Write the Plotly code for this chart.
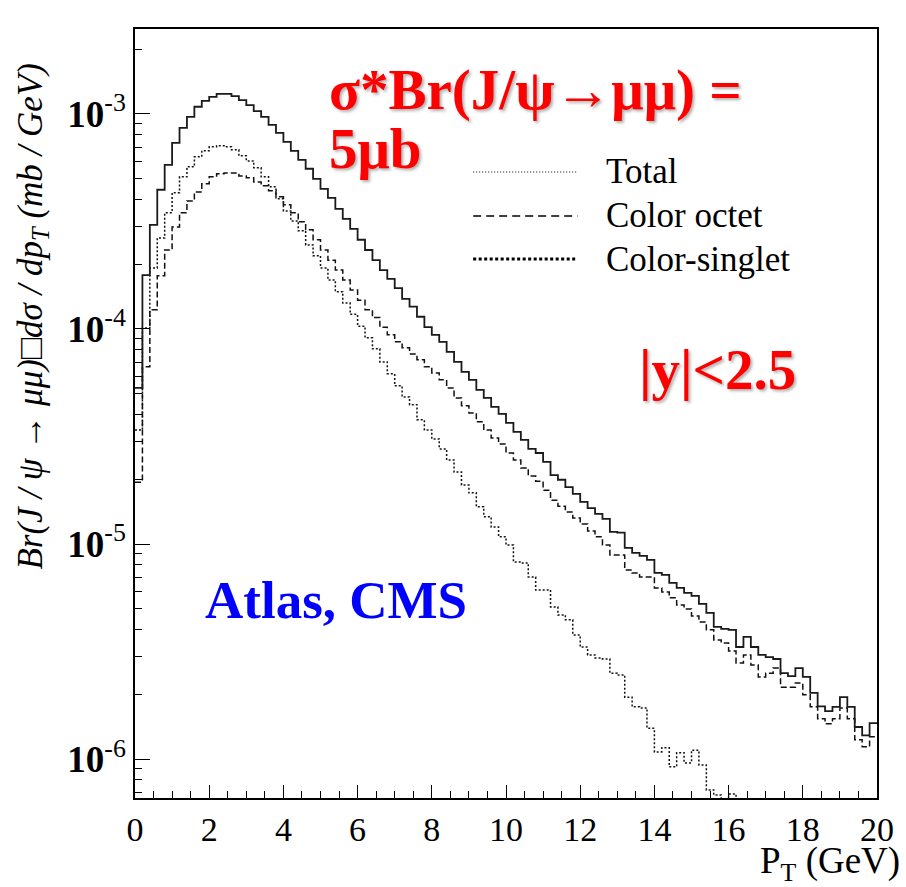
import plotly.graph_objects as go

# ---------------- data ----------------
bin_width = 0.2          # GeV
n_bins = 100
pt_edges = [round(i * bin_width, 1) for i in range(n_bins + 1)]

total = [
    5.32e-5, 1.78e-4, 3.05e-4, 4.44e-4, 5.80e-4, 7.34e-4, 8.62e-4, 9.70e-4, 1.08e-3, 1.15e-3,
    1.20e-3, 1.24e-3, 1.24e-3, 1.21e-3, 1.16e-3, 1.10e-3, 1.03e-3, 9.70e-4, 8.90e-4, 8.17e-4,
    7.42e-4, 6.74e-4, 6.12e-4, 5.56e-4, 4.99e-4, 4.48e-4, 4.07e-4, 3.62e-4, 3.25e-4, 2.92e-4,
    2.60e-4, 2.33e-4, 2.09e-4, 1.88e-4, 1.71e-4, 1.55e-4, 1.38e-4, 1.27e-4, 1.14e-4, 1.02e-4,
    9.39e-5, 8.72e-5, 7.83e-5, 7.03e-5, 6.32e-5, 5.80e-5, 5.21e-5, 4.78e-5, 4.34e-5, 4.03e-5,
    3.66e-5, 3.32e-5, 3.05e-5, 2.77e-5, 2.65e-5, 2.41e-5, 2.09e-5, 1.99e-5, 1.84e-5, 1.71e-5,
    1.57e-5, 1.47e-5, 1.38e-5, 1.31e-5, 1.14e-5, 1.13e-5, 9.60e-6, 9.10e-6, 8.81e-6, 8.44e-6,
    7.34e-6, 7.19e-6, 6.60e-6, 6.25e-6, 5.93e-6, 5.74e-6, 5.27e-6, 4.78e-6, 4.12e-6, 4.03e-6,
    3.99e-6, 3.32e-6, 3.70e-6, 3.32e-6, 3.05e-6, 2.98e-6, 2.92e-6, 2.51e-6, 2.43e-6, 2.65e-6,
    2.41e-6, 2.03e-6, 1.76e-6, 1.67e-6, 1.75e-6, 1.94e-6, 1.75e-6, 1.41e-6, 1.29e-6, 1.47e-6,
]

color_octet = [
    1.94e-5, 6.67e-5, 1.23e-4, 1.77e-4, 2.33e-4, 2.98e-4, 3.47e-4, 3.94e-4, 4.34e-4, 4.73e-4,
    5.10e-4, 5.27e-4, 5.32e-4, 5.32e-4, 5.15e-4, 5.05e-4, 4.83e-4, 4.63e-4, 4.39e-4, 4.12e-4,
    3.78e-4, 3.47e-4, 3.15e-4, 2.89e-4, 2.60e-4, 2.33e-4, 2.09e-4, 1.88e-4, 1.69e-4, 1.52e-4,
    1.36e-4, 1.23e-4, 1.13e-4, 1.02e-4, 9.39e-5, 8.72e-5, 8.17e-5, 7.66e-5, 7.19e-5, 6.67e-5,
    6.25e-5, 5.80e-5, 5.32e-5, 4.78e-5, 4.39e-5, 4.07e-5, 3.70e-5, 3.39e-5, 3.11e-5, 2.92e-5,
    2.65e-5, 2.46e-5, 2.26e-5, 2.07e-5, 1.96e-5, 1.78e-5, 1.60e-5, 1.50e-5, 1.41e-5, 1.32e-5,
    1.24e-5, 1.15e-5, 1.08e-5, 9.89e-6, 8.90e-6, 8.90e-6, 7.58e-6, 7.34e-6, 7.03e-6, 7.03e-6,
    6.25e-6, 5.99e-6, 5.62e-6, 5.21e-6, 4.99e-6, 4.63e-6, 4.34e-6, 3.99e-6, 3.58e-6, 3.47e-6,
    3.18e-6, 2.80e-6, 3.05e-6, 2.74e-6, 2.41e-6, 2.51e-6, 2.65e-6, 2.16e-6, 2.16e-6, 2.26e-6,
    1.99e-6, 1.75e-6, 1.54e-6, 1.46e-6, 1.54e-6, 1.73e-6, 1.54e-6, 1.23e-6, 1.14e-6, 1.27e-6,
]

# bins whose content falls below the axis minimum are given 1e-7
color_singlet = [
    3.39e-5, 1.01e-4, 1.92e-4, 2.65e-4, 3.47e-4, 4.30e-4, 5.10e-4, 5.68e-4, 6.32e-4, 6.74e-4,
    7.03e-4, 7.11e-4, 7.03e-4, 6.81e-4, 6.39e-4, 6.05e-4, 5.62e-4, 5.10e-4, 4.58e-4, 4.03e-4,
    3.54e-4, 3.18e-4, 2.86e-4, 2.46e-4, 2.19e-4, 1.92e-4, 1.69e-4, 1.49e-4, 1.32e-4, 1.17e-4,
    1.03e-4, 9.10e-5, 8.09e-5, 7.03e-5, 6.19e-5, 5.44e-5, 4.83e-5, 4.44e-5, 3.78e-5, 3.39e-5,
    3.08e-5, 2.77e-5, 2.46e-5, 2.16e-5, 1.88e-5, 1.73e-5, 1.49e-5, 1.34e-5, 1.20e-5, 1.08e-5,
    9.89e-6, 8.26e-6, 8.17e-6, 7.03e-6, 6.12e-6, 6.12e-6, 5.10e-6, 4.68e-6, 4.44e-6, 3.78e-6,
    3.32e-6, 3.05e-6, 2.95e-6, 2.92e-6, 2.51e-6, 2.46e-6, 1.94e-6, 1.75e-6, 1.73e-6, 1.39e-6,
    1.08e-6, 1.13e-6, 9.20e-7, 1.07e-6, 9.60e-7, 1.10e-6, 9.39e-7, 7.19e-7, 6.81e-7, 5.00e-7,
    6.88e-7, 1e-7, 1e-7, 1e-7, 1e-7, 1e-7, 1e-7, 1e-7, 1e-7, 1e-7,
    1e-7, 1e-7, 1e-7, 1e-7, 1e-7, 1e-7, 1e-7, 1e-7, 1e-7, 1e-7,
]

legend_labels = ["Total", "Color octet", "Color-singlet"]
x_tick_vals = list(range(0, 21, 2))
y_decades = [-6, -5, -4, -3]
y_range_log = [-6.181, -2.605]

# ---------------- layout geometry (pixels) ----------------
W_FIG, H_FIG = 906, 887
L, R, T, B = 135, 881, 29, 798
PW, PH = R - L, B - T


def px(x):
    return (x - L) / PW


def py(y):
    return (B - y) / PH


SERIF = "Liberation Serif, Times New Roman, serif"

fig = go.Figure()


def step(vals):
    return vals + [vals[-1]]


fig.add_trace(go.Scatter(x=pt_edges, y=step(color_singlet), mode="lines",
                         line=dict(shape="hv", color="#111", width=1.5, dash="2px,2px"),
                         showlegend=False, hoverinfo="skip"))
fig.add_trace(go.Scatter(x=pt_edges, y=step(color_octet), mode="lines",
                         line=dict(shape="hv", color="#111", width=1.5, dash="6px,3px"),
                         showlegend=False, hoverinfo="skip"))
fig.add_trace(go.Scatter(x=pt_edges, y=step(total), mode="lines",
                         line=dict(shape="hv", color="#1a1a1a", width=1.8),
                         showlegend=False, hoverinfo="skip"))

minor_y = [k * 10.0 ** e for e in range(-7, -1) for k in range(2, 10)]

fig.update_layout(
    width=W_FIG, height=H_FIG, autosize=False,
    margin=dict(l=L, r=W_FIG - R, t=T, b=H_FIG - B, pad=0),
    paper_bgcolor="white", plot_bgcolor="white",
    showlegend=False,
    xaxis=dict(range=[0, 20], showline=True, linecolor="black", linewidth=1.5, mirror=True,
               ticks="inside", ticklen=13, tickwidth=1, tickcolor="black",
               tickmode="array", tickvals=x_tick_vals, ticktext=[str(v) for v in x_tick_vals],
               tickfont=dict(family=SERIF, size=34, color="black"),
               minor=dict(dtick=0.5, ticks="inside", ticklen=7, tickcolor="black", tickwidth=1),
               showgrid=False, zeroline=False),
    yaxis=dict(type="log", range=y_range_log, showline=True, linecolor="black", linewidth=1.5,
               mirror=True, ticks="inside", ticklen=15, tickwidth=1, tickcolor="black",
               tickmode="array", tickvals=[10.0 ** d for d in y_decades],
               ticktext=["<b>10</b><sup>%d</sup>" % d for d in y_decades],
               tickfont=dict(family=SERIF, size=37, color="black"),
               minor=dict(tickmode="array", tickvals=minor_y, ticks="inside", ticklen=7,
                          tickcolor="black", tickwidth=1),
               showgrid=False, zeroline=False),
)

# legend drawn by hand (ROOT style)
leg_y = [172, 216, 259]
leg_dash = ["1px,2px", "8px,5px", "3px,2.5px"]
leg_width = [1.0, 1.5, 3.0]
for lab, yy, dsh, lw in zip(legend_labels, leg_y, leg_dash, leg_width):
    fig.add_shape(type="line", xref="paper", yref="paper", x0=px(475), x1=px(580),
                  y0=py(yy), y1=py(yy), line=dict(color="black", width=lw, dash=dsh))
    fig.add_annotation(xref="paper", yref="paper", x=px(607), y=py(yy), text=lab,
                       xanchor="left", yanchor="middle", showarrow=False,
                       font=dict(family=SERIF, size=35, color="black"))

SHADOW = "2px 2px 3px rgba(110,110,110,0.55)"


def label(text, x, y, color, size, shadow=False):
    font = dict(family=SERIF, size=size, color=color)
    if shadow:
        font["shadow"] = SHADOW
    fig.add_annotation(xref="paper", yref="paper", x=px(x), y=py(y), text=text,
                       xanchor="left", yanchor="middle", showarrow=False, font=font)


label("<b>σ*Br(J/ψ→μμ) =</b>", 328, 90, "#ff0000", 57, shadow=True)
label("<b>5μb</b>", 328, 148, "#ff0000", 57, shadow=True)
label("<b>|y|&lt;2.5</b>", 640, 369, "#ff0000", 57, shadow=True)
label("<b>Atlas, CMS</b>", 203, 600, "#0000ff", 53)

# axis titles
fig.add_annotation(xref="paper", yref="paper", x=px(31), y=py(62),
                   text="<i>Br(J / ψ → μμ)□dσ / dp<sub>T</sub> (mb / GeV)</i>",
                   textangle=-90, xanchor="center", yanchor="top", showarrow=False,
                   font=dict(family=SERIF, size=35, color="black"))
fig.add_annotation(xref="paper", yref="paper", x=px(906), y=py(889),
                   text="P<sub>T</sub> (GeV)", xanchor="right", yanchor="bottom",
                   showarrow=False, font=dict(family=SERIF, size=37, color="black"))

fig.write_html("out.html")
